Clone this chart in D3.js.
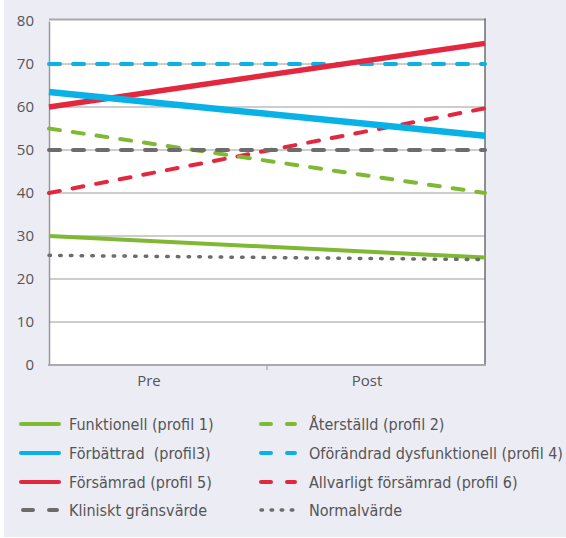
<!DOCTYPE html>
<html>
<head>
<meta charset="utf-8">
<script src="https://cdn.jsdelivr.net/npm/d3@7/dist/d3.min.js"></script>
<style>
  html, body { margin: 0; padding: 0; background: #ffffff; }
  svg { display: block; }
</style>
</head>
<body>
<svg id="chart" width="566" height="538"></svg>
<script>
// Measurement points
const categories = ["Pre", "Post"];
const yTicks = [0, 10, 20, 30, 40, 50, 60, 70, 80];

// Profile values at Pre and Post
const funktionell = [30, 25];
const aterstalld = [55, 40];
const forbattrad = [63.5, 53.3];
const oforandrad = [70, 70];
const forsamrad = [60, 74.8];
const allvarligt = [40, 59.7];
const kliniskt = [50, 50];
const normalvarde = [25.5, 24.5];

const names = [
  "Funktionell (profil 1)", "Återställd (profil 2)",
  "Förbättrad  (profil3)", "Oförändrad dysfunktionell (profil 4)",
  "Försämrad (profil 5)", "Allvarligt försämrad (profil 6)",
  "Kliniskt gränsvärde", "Normalvärde"
];

const GREEN = "#7fb832", BLUE = "#08b2e6", RED = "#e2273f", GRAY = "#6d6b6b";
const DASH = "11,13", DOT = "1.5,9.2";

const series = [
  { name: names[0], values: funktionell, color: GREEN, width: 4,   dash: null, z: 4 },
  { name: names[1], values: aterstalld,  color: GREEN, width: 4,   dash: DASH, z: 1 },
  { name: names[2], values: forbattrad,  color: BLUE,  width: 6.5, dash: null, z: 7 },
  { name: names[3], values: oforandrad,  color: BLUE,  width: 4,   dash: DASH, z: 2 },
  { name: names[4], values: forsamrad,   color: RED,   width: 5.5, dash: null, z: 6 },
  { name: names[5], values: allvarligt,  color: RED,   width: 4,   dash: DASH, z: 0 },
  { name: names[6], values: kliniskt,    color: GRAY,  width: 4,   dash: DASH, z: 3 },
  { name: names[7], values: normalvarde, color: GRAY,  width: 3.5, dash: DOT,  z: 5 }
];

const svg = d3.select("#chart");
const W = 566, H = 538;

// Panel background
svg.append("rect").attr("x", 4).attr("y", 0).attr("width", W - 4).attr("height", 537)
  .attr("fill", "#ececf5");

const plot = { left: 49, right: 485, top: 21, bottom: 365 };

const x = d3.scalePoint().domain(categories).range([plot.left, plot.right]);
const xBand = d3.scaleBand().domain(categories).range([plot.left, plot.right]);
const y = d3.scaleLinear().domain([0, 80]).range([plot.bottom, plot.top]);

// Plot area
svg.append("rect")
  .attr("x", plot.left).attr("y", y(80) - 1.5)
  .attr("width", plot.right - plot.left).attr("height", plot.bottom - y(80) + 1.5)
  .attr("fill", "#ffffff");

// Horizontal gridlines
svg.append("g").selectAll("line")
  .data(yTicks.filter(t => t > 0 && t < 80))
  .join("line")
  .attr("x1", plot.left).attr("x2", plot.right)
  .attr("y1", d => y(d)).attr("y2", d => y(d))
  .attr("stroke", "#bdbdbd").attr("stroke-width", 1.5);

// Frame
svg.append("line").attr("x1", plot.left).attr("x2", plot.right + 1)
  .attr("y1", y(80) - 1.5).attr("y2", y(80) - 1.5)
  .attr("stroke", "#a9a9a9").attr("stroke-width", 2);
svg.append("line").attr("x1", plot.right).attr("x2", plot.right)
  .attr("y1", y(80) - 2.5).attr("y2", plot.bottom + 1)
  .attr("stroke", "#6e6e6e").attr("stroke-width", 1.5);

// Y axis
const yAxis = d3.axisLeft(y).tickValues(yTicks).tickSize(0).tickPadding(15);
const gy = svg.append("g").attr("transform", `translate(${plot.left},0)`).call(yAxis);
gy.select(".domain").attr("stroke", "#999999").attr("stroke-width", 1.5);
gy.selectAll("text")
  .attr("font-family", "'Open Sans', 'Noto Sans', sans-serif")
  .attr("font-size", 15).attr("fill", "#555555");

// X axis
const gx = svg.append("g").attr("transform", `translate(0,${plot.bottom})`);
gx.append("line").attr("x1", plot.left - 1).attr("x2", plot.right + 1)
  .attr("y1", 0).attr("y2", 0).attr("stroke", "#aaaaaa").attr("stroke-width", 2);
// Tick marks between categories
gx.selectAll("line.tick")
  .data(categories.slice(1))
  .join("line").attr("class", "tick")
  .attr("x1", d => xBand(d)).attr("x2", d => xBand(d))
  .attr("y1", 0).attr("y2", 5)
  .attr("stroke", "#999999").attr("stroke-width", 1);
gx.selectAll("text")
  .data(categories)
  .join("text")
  .attr("x", d => xBand(d) + xBand.bandwidth() / 2 - 9)
  .attr("y", 21)
  .attr("text-anchor", "middle")
  .attr("font-family", "'Open Sans', 'Noto Sans', sans-serif")
  .attr("font-size", 15).attr("fill", "#555555")
  .text(d => d);

// Series lines
const line = d3.line().x((d, i) => x(categories[i])).y(d => y(d));
svg.append("g").selectAll("path")
  .data(series.slice().sort((a, b) => a.z - b.z))
  .join("path")
  .attr("d", d => line(d.values))
  .attr("fill", "none")
  .attr("stroke", d => d.color)
  .attr("stroke-width", d => d.width)
  .attr("stroke-linecap", d => d.dash ? "round" : "butt")
  .attr("stroke-dasharray", d => d.dash);

// Legend: two columns, four rows
const legendRows = [424, 453, 482, 510];
const legendCols = [{ x1: 21, x2: 59, tx: 69 }, { x1: 259, x2: 297, tx: 309 }];
const legendItems = [
  { s: series[0], col: 0, row: 0 }, { s: series[1], col: 1, row: 0 },
  { s: series[2], col: 0, row: 1 }, { s: series[3], col: 1, row: 1 },
  { s: series[4], col: 0, row: 2 }, { s: series[5], col: 1, row: 2 },
  { s: series[6], col: 0, row: 3 }, { s: series[7], col: 1, row: 3 }
];
const lg = svg.append("g").selectAll("g").data(legendItems).join("g");
lg.append("line")
  .attr("x1", d => legendCols[d.col].x1 + (d.s.dash ? 2 : 0))
  .attr("x2", d => legendCols[d.col].x2 - (d.s.dash ? 2 : 0))
  .attr("y1", d => legendRows[d.row]).attr("y2", d => legendRows[d.row])
  .attr("stroke", d => d.s.color)
  .attr("stroke-width", d => d.s.dash === DOT ? 3.5 : 4)
  .attr("stroke-linecap", "round")
  .attr("stroke-dasharray", d => d.s.dash === DASH ? "10,16" : d.s.dash === DOT ? "1.5,8.6" : null);
lg.append("text")
  .attr("x", d => legendCols[d.col].tx)
  .attr("y", d => legendRows[d.row] + 5.5)
  .style("white-space", "pre")
  .attr("font-family", "'DejaVu Sans Condensed', 'DejaVu Sans', sans-serif")
  .attr("font-stretch", "condensed")
  .attr("font-size", 16).attr("fill", "#555555")
  .text(d => d.s.name);
</script>
</body>
</html>
